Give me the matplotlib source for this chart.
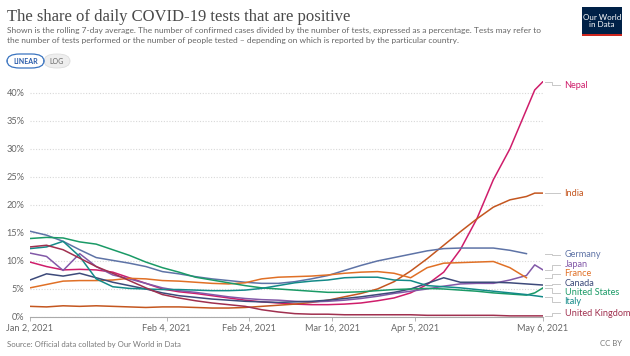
import numpy as np
import pandas as pd
import matplotlib
matplotlib.use("Agg")
import matplotlib.pyplot as plt
import matplotlib.transforms as mtransforms
from matplotlib.patches import FancyBboxPatch, Rectangle

plt.rcParams['font.family'] = ['Lato', 'DejaVu Sans']

# days after Jan 2, 2021
day_offsets = [0, 4, 8, 12, 16, 20, 24, 28, 32, 36, 40, 44, 48, 52, 56, 60, 64,
               68, 72, 76, 80, 84, 88, 92, 96, 100, 104, 108, 112, 116, 120, 122, 124]
nan = np.nan

nepal = [9.8, 9.0, 8.4, 8.5, 8.4, 8.0, 7.0, 6.0, 5.0, 4.5, 4.2, 3.8, 3.4, 3.0, 2.7, 2.5, 2.3,
         2.2, 2.2, 2.3, 2.5, 2.9, 3.4, 4.3, 5.8, 8.0, 12.0, 17.5, 24.5, 30.0, 37.0, 40.5, 42.0]
india = [1.9, 1.8, 2.0, 1.9, 2.0, 1.9, 1.8, 1.7, 1.8, 1.8, 1.7, 1.6, 1.6, 1.7, 1.9, 2.1, 2.3,
         2.6, 3.0, 3.6, 4.2, 5.0, 6.3, 8.2, 10.4, 12.8, 15.2, 17.5, 19.6, 20.9, 21.5, 22.1, 22.1]
germany = [15.3, 14.6, 13.5, 12.0, 10.6, 10.1, 9.6, 9.0, 8.1, 7.7, 7.2, 6.8, 6.5, 6.2, 6.0, 6.0, 6.3,
           6.8, 7.4, 8.3, 9.2, 10.0, 10.6, 11.2, 11.8, 12.2, 12.3, 12.3, 12.3, 11.9, 11.3, nan, nan]
japan = [11.4, 10.8, 8.3, 11.3, 9.0, 7.5, 6.8, 6.0, 5.2, 4.7, 4.4, 4.0, 3.6, 3.3, 3.1, 3.0, 2.8,
         2.7, 2.8, 3.0, 3.3, 3.7, 4.2, 4.6, 5.0, 5.5, 5.9, 6.0, 6.0, 6.6, 7.4, 9.3, 8.4]
france = [5.2, 5.8, 6.4, 6.5, 6.5, 6.6, 6.9, 6.8, 6.5, 6.4, 6.2, 6.0, 5.9, 6.1, 6.8, 7.1, 7.2,
          7.3, 7.5, 7.8, 8.0, 8.1, 7.8, 7.0, 8.8, 9.6, 9.7, 9.8, 9.9, 8.8, 7.0, nan, nan]
canada = [6.6, 7.7, 7.3, 7.8, 7.0, 6.2, 5.6, 5.0, 4.3, 3.8, 3.5, 3.2, 3.0, 2.8, 2.7, 2.6, 2.7,
          2.8, 3.0, 3.3, 3.6, 4.0, 4.4, 5.0, 6.0, 7.0, 6.2, 6.2, 6.2, 6.1, 5.9, 5.8, 5.7]
united_states = [14.0, 14.2, 14.1, 13.4, 13.0, 12.0, 11.0, 9.8, 8.8, 8.0, 7.1, 6.6, 6.1, 5.6, 5.2, 5.0, 4.8,
                 4.6, 4.4, 4.4, 4.5, 4.7, 4.9, 5.0, 5.1, 5.0, 4.8, 4.6, 4.3, 4.1, 3.9, 4.3, 5.2]
italy = [12.2, 12.5, 13.5, 10.8, 6.8, 5.4, 5.1, 5.0, 4.9, 4.9, 4.8, 4.7, 4.7, 4.8, 5.1, 5.6, 6.1,
         6.4, 6.6, 7.0, 7.1, 7.1, 6.6, 6.5, 5.6, 5.4, 5.2, 4.9, 4.6, 4.3, 4.0, 3.8, 3.6]
united_kingdom = [12.5, 12.8, 12.0, 10.5, 9.0, 7.8, 6.5, 5.2, 4.0, 3.4, 2.9, 2.5, 2.2, 1.9, 1.3, 0.9, 0.6,
                  0.5, 0.5, 0.4, 0.4, 0.4, 0.4, 0.4, 0.3, 0.3, 0.3, 0.3, 0.3, 0.2, 0.2, 0.2, 0.2]

countries = ["Nepal", "India", "Germany", "Japan", "France", "Canada",
             "United States", "Italy", "United Kingdom"]
series = [nepal, india, germany, japan, france, canada, united_states, italy, united_kingdom]
colors = ["#cf1d6b", "#c4561f", "#5e73a6", "#8259a8", "#e07026", "#3d4a7a",
          "#1a9a66", "#138a88", "#a0304f"]
# label positions (in %) after de-overlapping
label_y = [41.3, 22.1, 11.1, 9.3, 7.7, 5.9, 4.3, 2.7, 0.7]

y_ticks = [0, 5, 10, 15, 20, 25, 30, 35, 40]
x_tick_dates = ["2021-01-02", "2021-02-04", "2021-02-24", "2021-03-16", "2021-04-05", "2021-05-06"]

start = pd.Timestamp("2021-01-02")
dates = [start + pd.Timedelta(days=d) for d in day_offsets]

fig = plt.figure(figsize=(6.3, 3.56), dpi=100)
W, H = 630, 356
ax = fig.add_axes([30 / W, 39 / H, 513 / W, (317 - 81) / H])

for vals, c in zip(series, colors):
    ax.plot(dates, vals, color=c, lw=1.1, solid_joinstyle='round')

ax.set_xlim(pd.Timestamp("2021-01-02"), pd.Timestamp("2021-05-06"))
ax.set_ylim(0, 42.1)
ax.set_yticks(y_ticks)
ax.set_yticklabels([f"{v}%" for v in y_ticks])
xt = [pd.Timestamp(d) for d in x_tick_dates]
ax.set_xticks(xt)
ax.set_xticklabels([f"{d:%b} {d.day}, {d.year}" for d in xt])
ax.tick_params(axis='y', length=0, pad=4, labelsize=6.6, labelcolor='#666666')
ax.tick_params(axis='x', length=3, width=0.6, color='#aaaaaa', pad=2,
               labelsize=6.6, labelcolor='#666666')
ax.yaxis.grid(True, linestyle=(0, (1, 1.5)), color='#d8d8d8', lw=0.8)
ax.set_axisbelow(True)
for s in ['left', 'top', 'right']:
    ax.spines[s].set_visible(False)
ax.spines['bottom'].set_color('#aaaaaa')
ax.spines['bottom'].set_linewidth(0.8)

# line-end labels with connectors
trans = mtransforms.blended_transform_factory(ax.transAxes, ax.transData)
for name, vals, c, ly in zip(countries, series, colors, label_y):
    v = np.array(vals, dtype=float)
    end = v[~np.isnan(v)][-1]
    ax.plot([1.004, 1.018, 1.018, 1.034], [end, end, ly, ly], transform=trans,
            color='#c8c8c8', lw=0.7, clip_on=False)
    ax.text(1.042, ly, name, transform=trans, fontsize=6.6, color=c,
            va='center', ha='left')

# header
fig.text(7 / W, 1 - 17 / H, "The share of daily COVID-19 tests that are positive",
         fontsize=12, family=['Liberation Serif', 'DejaVu Serif'], color='#4a4a4a', va='center')
fig.text(7 / W, 1 - 30 / H,
         "Shown is the rolling 7-day average. The number of confirmed cases divided by the number of tests, "
         "expressed as a percentage. Tests may refer to",
         fontsize=6.0, color='#666666', va='center')
fig.text(7 / W, 1 - 41 / H,
         "the number of tests performed or the number of people tested \u2013 depending on which is "
         "reported by the particular country.",
         fontsize=6.0, color='#666666', va='center')

# LINEAR / LOG toggle
fig.patches.append(FancyBboxPatch((44 / W, 1 - 68 / H), 26 / W, 14 / H,
                                  boxstyle="round,pad=0,rounding_size=0.02",
                                  transform=fig.transFigure, fc='#eeeeee', ec='#dddddd', lw=0.6))
fig.patches.append(FancyBboxPatch((7 / W, 1 - 68 / H), 37 / W, 14 / H,
                                  boxstyle="round,pad=0,rounding_size=0.02",
                                  transform=fig.transFigure, fc='white', ec='#3a74c0', lw=0.9))
fig.text(25.5 / W, 1 - 61 / H, "LINEAR", fontsize=5, color='#2a5caa', ha='center', va='center',
         weight='bold')
fig.text(57 / W, 1 - 61 / H, "LOG", fontsize=5, color='#666666', ha='center', va='center')

# logo
fig.patches.append(Rectangle((582 / W, 1 - 36 / H), 40 / W, 29 / H,
                             transform=fig.transFigure, fc='#002147', ec='none'))
fig.patches.append(Rectangle((582 / W, 1 - 36 / H), 40 / W, 2 / H,
                             transform=fig.transFigure, fc='#ce261e', ec='none'))
fig.text(602 / W, 1 - 21 / H, "Our World\nin Data", fontsize=5.8, color='white',
         ha='center', va='center', linespacing=1.0)

# footer
fig.text(7 / W, 1 - 344 / H, "Source: Official data collated by Our World in Data",
         fontsize=5.6, color='#777777', va='center')
fig.text(622 / W, 1 - 344 / H, "CC BY", fontsize=5.6, color='#777777', va='center', ha='right')

fig.savefig("out.png", dpi=100)
